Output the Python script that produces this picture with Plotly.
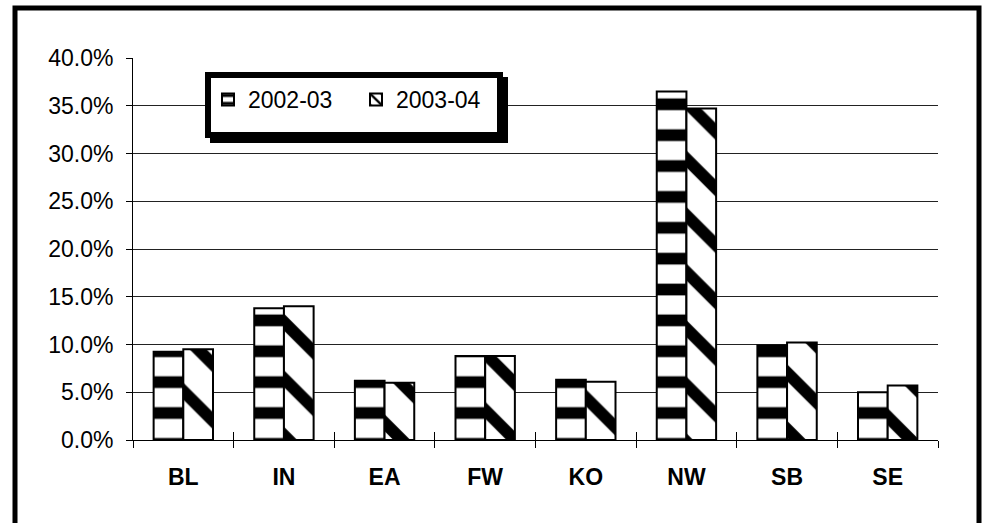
import plotly.graph_objects as go

categories = ["BL", "IN", "EA", "FW", "KO", "NW", "SB", "SE"]
series_names = ["2002-03", "2003-04"]
values_2002_03 = [0.0925, 0.138, 0.062, 0.088, 0.063, 0.365, 0.099, 0.050]
values_2003_04 = [0.095, 0.140, 0.060, 0.088, 0.061, 0.347, 0.102, 0.057]
y_ticks = [0.0, 0.05, 0.10, 0.15, 0.20, 0.25, 0.30, 0.35, 0.40]

W, H = 986, 523
L, R, T, B = 133, 48, 58, 83
PW, PH = W - L - R, H - T - B
FONT = "Liberation Sans, Arial, sans-serif"

def px(x):
    return (x - L) / PW

def py(y):
    return (H - B - y) / PH

fig = go.Figure()
fig.add_trace(go.Bar(
    name=series_names[0], x=categories, y=values_2002_03,
    marker=dict(color="white", line=dict(color="black", width=2),
                pattern=dict(shape="-", fgcolor="black", bgcolor="white", fgopacity=1,
                             size=30.87, solidity=0.38)),
))
fig.add_trace(go.Bar(
    name=series_names[1], x=categories, y=values_2003_04,
    marker=dict(color="white", line=dict(color="black", width=2),
                pattern=dict(shape="\\", fgcolor="black", bgcolor="white", fgopacity=1,
                             size=40, solidity=0.3)),
))
# invisible helper trace for the inner halves of the category ticks
fig.add_trace(go.Scatter(x=categories, y=[None] * len(categories), xaxis="x2",
                         showlegend=False, hoverinfo="skip", mode="markers"))

shapes = [
    # outer chart border
    dict(type="rect", xref="paper", yref="paper",
         x0=px(15), x1=px(979), y0=py(8), y1=py(540),
         line=dict(color="black", width=5), fillcolor="rgba(0,0,0,0)", layer="above"),
    # legend shadow
    dict(type="rect", xref="paper", yref="paper",
         x0=px(210), x1=px(508), y0=py(77), y1=py(143),
         line=dict(width=0), fillcolor="black", layer="above"),
    # legend box
    dict(type="rect", xref="paper", yref="paper",
         x0=px(208), x1=px(500), y0=py(75), y1=py(135),
         line=dict(color="black", width=6), fillcolor="white", layer="above"),
]

fig.update_layout(
    width=W, height=H,
    margin=dict(l=L, r=R, t=T, b=B, pad=0),
    paper_bgcolor="white", plot_bgcolor="white",
    font=dict(family=FONT, color="black"),
    barmode="group", bargap=0.41, bargroupgap=0,
    showlegend=True,
    legend=dict(orientation="h", x=px(208), xanchor="left", y=py(78), yanchor="top",
                bgcolor="rgba(0,0,0,0)", borderwidth=0,
                font=dict(size=23, family=FONT),
                entrywidth=103, entrywidthmode="pixels", itemwidth=30),
    xaxis=dict(type="category", categoryorder="array", categoryarray=categories,
               range=[-0.5, 7.5], tickson="boundaries", ticks="outside", ticklen=7,
               tickcolor="black", tickwidth=1, showline=True, linecolor="black",
               linewidth=1, showgrid=False,
               tickfont=dict(size=23, family=FONT, weight="bold"),
               ticklabelstandoff=16),
    xaxis2=dict(type="category", categoryorder="array", categoryarray=categories,
                range=[-0.5, 7.5], overlaying="x", tickson="boundaries",
                ticks="inside", ticklen=8, tickcolor="black", tickwidth=1,
                showticklabels=False, showgrid=False, showline=False, side="bottom"),
    yaxis=dict(range=[0, 0.40], tickvals=y_ticks, tickformat=".1%",
               ticks="outside", ticklen=6, tickcolor="black", tickwidth=1,
               showline=True, linecolor="black", linewidth=1,
               showgrid=True, gridcolor="#222", gridwidth=1, zeroline=False,
               tickfont=dict(size=23, family=FONT),
               ticklabelstandoff=8),
    shapes=shapes,
)

fig.write_html("out.html", config={"displayModeBar": False},
               post_script="document.body.style.margin='0';document.body.style.overflow='hidden';")
